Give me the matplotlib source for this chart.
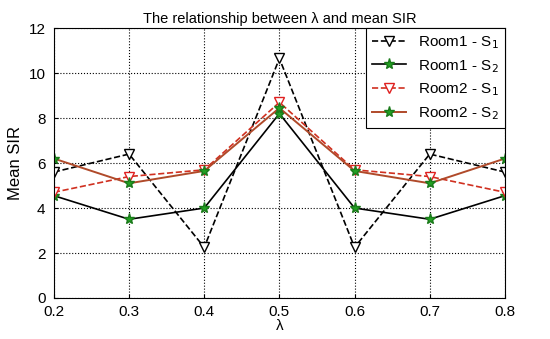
import matplotlib
matplotlib.use("Agg")
import matplotlib.pyplot as plt

lam = [0.2, 0.3, 0.4, 0.5, 0.6, 0.7, 0.8]
room1_s1 = [5.6, 6.4, 2.25, 10.65, 2.25, 6.4, 5.6]
room1_s2 = [4.55, 3.5, 4.0, 8.2, 4.0, 3.5, 4.55]
room2_s1 = [4.7, 5.4, 5.7, 8.7, 5.7, 5.4, 4.7]
room2_s2 = [6.2, 5.1, 5.65, 8.45, 5.65, 5.1, 6.2]
xticks = [0.2, 0.3, 0.4, 0.5, 0.6, 0.7, 0.8]
yticks = [0, 2, 4, 6, 8, 10, 12]

plt.rcParams['font.family'] = ['Liberation Sans', 'DejaVu Sans']

fig = plt.figure(figsize=(5.5, 3.39), dpi=100)
ax = fig.add_axes([0.098, 0.121, 0.82, 0.796])

ax.plot(lam, room1_s1, color='black', linestyle='--', linewidth=1.2, marker='v',
        markersize=7, markerfacecolor='white', markeredgecolor='black', label='Room1 - S$_1$')
ax.plot(lam, room1_s2, color='black', linestyle='-', linewidth=1.2, marker='*',
        markersize=8, markerfacecolor='#22a022', markeredgecolor='#1a7a1a', label='Room1 - S$_2$')
ax.plot(lam, room2_s1, color='#d03020', linestyle='--', linewidth=1.2, marker='v',
        markersize=7, markerfacecolor='white', markeredgecolor='#e02020', label='Room2 - S$_1$')
ax.plot(lam, room2_s2, color='#b04a2a', linestyle='-', linewidth=1.4, marker='*',
        markersize=8, markerfacecolor='#22a022', markeredgecolor='#1a7a1a', label='Room2 - S$_2$')

ax.set_xlim(0.2, 0.8)
ax.set_ylim(0, 12)
ax.set_xticks(xticks)
ax.set_yticks(yticks)
ax.set_xticklabels([f"{v:.1f}" for v in xticks])
ax.tick_params(direction='in', labelsize=11, length=3)
ax.tick_params(axis='x', pad=5)
ax.tick_params(axis='y', pad=6)
ax.grid(True, color='black', linestyle=':', linewidth=0.8)
ax.set_xlabel('λ', fontsize=11, labelpad=0)
ax.set_ylabel('Mean SIR', fontsize=12, labelpad=4)
ax.set_title('The relationship between λ and mean SIR', fontsize=10.5, pad=4)

leg = ax.legend(loc='upper right', fontsize=11, frameon=True, fancybox=False,
                edgecolor='black', framealpha=1, borderaxespad=0, handlelength=2.2,
                labelspacing=0.45)
leg.get_frame().set_linewidth(0.8)

fig.savefig('out.png', dpi=100)
